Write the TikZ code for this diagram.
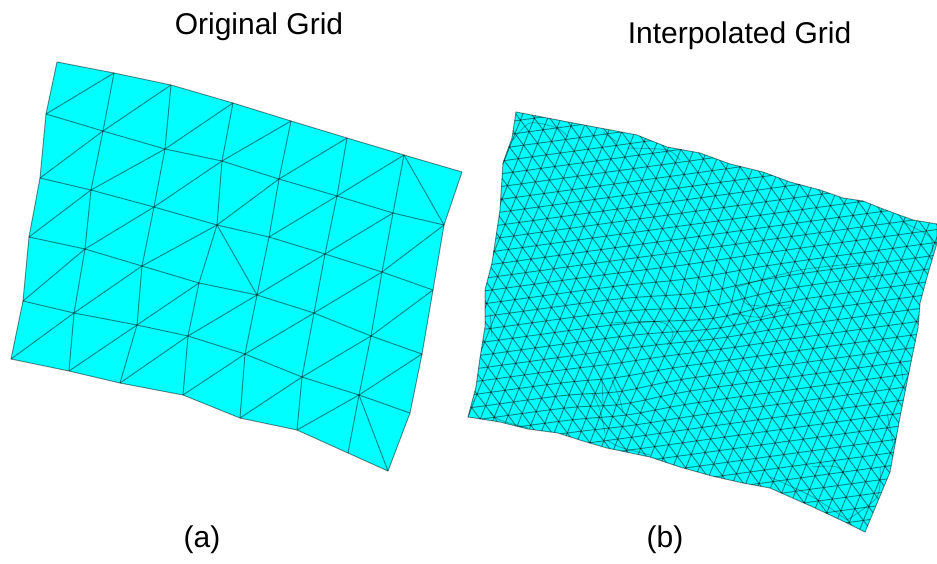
\documentclass[tikz,border=0pt]{standalone}
\usepackage{fontspec}
\setmainfont{Liberation Sans}
\usetikzlibrary{positioning}

\begin{document}
\begin{tikzpicture}[
  x=1pt, y=-1pt,
  title/.style={font=\fontsize{30}{34}\selectfont, text=black, inner sep=0pt},
  tag/.style={font=\fontsize{30}{34}\selectfont, text=black, inner sep=0pt},
  meshfill/.style={fill={rgb,255:red,0;green,255;blue,255}},
  meshline/.style={draw=black, draw opacity=.45, line width=1pt},
  fineline/.style={draw=black, draw opacity=.45, line width=1pt},
  seamline/.style={draw=black, draw opacity=.3, line width=.9pt},
]
\useasboundingbox (0,0) rectangle (937,563);

%% Titles
\node[title] (titleA) at (259,27) {Original Grid};
\node[title] (titleB) at (739.5,36) {Interpolated Grid};
\node[tag]   (tagA) at (202,540) {(a)};
\node[tag]   (tagB) at (665,540) {(b)};

%% Original grid, vertices
\foreach \name/\px/\py in {
  1-1/57/62, 1-2/114/73, 1-3/171/85, 1-4/233/103, 1-5/291/121, 1-6/347/138, 1-7/404/155, 1-8/462/172,
  2-1/46/114, 2-2/103/131, 2-3/165/149, 2-4/222/161, 2-5/279/179, 2-6/337/196, 2-7/393/213, 2-8/444/225,
  3-1/40/178, 3-2/91/190, 3-3/154/207, 3-4/217/225, 3-5/269/237, 3-6/325/254, 3-7/382/272, 3-8/433/290,
  4-1/29/237, 4-2/85/249, 4-3/142/266, 4-4/199/283, 4-5/257/295, 4-6/314/313, 4-7/371/336, 4-8/422/354,
  5-1/23/301, 5-2/74/313, 5-3/137/325, 5-4/188/336, 5-5/245/354, 5-6/302/377, 5-7/359/395, 5-8/410/413,
  6-1/11/359, 6-2/69/371, 6-3/120/383, 6-4/183/395, 6-5/240/418, 6-6/297/430, 6-7/348/453, 6-8/388/471}
  \coordinate (g\name) at (\px,\py);

\path[meshfill] (g1-1) -- (g1-2) -- (g1-3) -- (g1-4) -- (g1-5) -- (g1-6) -- (g1-7) -- (g1-8)
  -- (g2-8) -- (g3-8) -- (g4-8) -- (g5-8) -- (g6-8) -- (g6-7) -- (g6-6) -- (g6-5) -- (g6-4)
  -- (g6-3) -- (g6-2) -- (g6-1) -- (g5-1) -- (g4-1) -- (g3-1) -- (g2-1) -- cycle;

%% Original grid, rows and columns
\foreach \r in {1,...,6}
  \foreach \c in {1,...,7} {
    \pgfmathtruncatemacro\cnext{\c+1}
    \draw[meshline] (g\r-\c) -- (g\r-\cnext);
  }
\foreach \c in {1,...,8}
  \foreach \r in {1,...,5} {
    \pgfmathtruncatemacro\rnext{\r+1}
    \draw[meshline] (g\r-\c) -- (g\rnext-\c);
  }

%% Original grid, diagonals (cells 1-7, 3-4 and 5-7 lean the other way)
\foreach \r in {1,...,5}
  \foreach \c in {1,...,7} {
    \pgfmathtruncatemacro\cell{10*\r+\c}
    \pgfmathtruncatemacro\lean{(\cell==17)+(\cell==34)+(\cell==57)}
    \pgfmathtruncatemacro\cnext{\c+1}
    \pgfmathtruncatemacro\rfrom{\r+1-\lean}
    \pgfmathtruncatemacro\rto{\r+\lean}
    \draw[meshline] (g\rfrom-\c) -- (g\rto-\cnext);
  }

%% Interpolated grid, outline
\def\outline{(516,112) -- (568,122) -- (637,135) -- (667,147) -- (700,153) -- (730,164)
  -- (763,172) -- (790,182) -- (820,190) -- (843,198) -- (863,201) -- (883,209) -- (913,220)
  -- (937,224) -- (937,243) -- (927,277) -- (920,303) -- (918,328) -- (910,367) -- (900,417)
  -- (890,472) -- (865,532) -- (845,522) -- (813,507) -- (770,488) -- (743,483) -- (712,476)
  -- (680,467) -- (650,457) -- (607,448) -- (583,441) -- (558,433) -- (528,429) -- (500,422)
  -- (468,417) -- (476,387) -- (480,358) -- (485,327) -- (485,290) -- (492,263) -- (500,210)
  -- (503,163) -- (512,138) -- cycle}
\path[meshfill] \outline;

%% Interpolated grid, vertices (lattice with two local bumps)
\foreach \j in {-17,...,20} {
  \pgfmathtruncatemacro\ilo{(460-700-8.6*\j)/14-4}
  \pgfmathtruncatemacro\ihi{(945-700-8.6*\j)/14+4}
  \foreach \i in {\ilo,...,\ihi} {
    \pgfmathsetmacro\mx{700+\i*14+\j*8.6}
    \pgfmathsetmacro\my{300-\i*1.9+\j*11.6}
    \pgfmathsetmacro\ba{exp(-(((\mx-705)/55)*((\mx-705)/55)+((\my-305)/30)*((\my-305)/30)))}
    \pgfmathsetmacro\bb{exp(-(((\mx-625)/39)*((\mx-625)/39)+((\my-395)/26)*((\my-395)/26)))}
    \coordinate (m\i-\j) at ({\mx+5*\ba-4*\bb},{\my+7*\ba+5*\bb});
  }
}

\begin{scope}
  \clip \outline;
  \foreach \j in {-17,...,19} {
    \pgfmathtruncatemacro\ilo{(460-700-8.6*\j)/14-1}
    \pgfmathtruncatemacro\ihi{(945-700-8.6*\j)/14+1}
    \pgfmathtruncatemacro\jnext{\j+1}
    \foreach \i in {\ilo,...,\ihi} {
      \pgfmathtruncatemacro\inext{\i+1}
      \pgfmathtruncatemacro\iprev{\i-1}
      \draw[fineline] (m\i-\j) -- (m\inext-\j);
      \draw[fineline] (m\i-\j) -- (m\i-\jnext);
      \draw[fineline] (m\i-\j) -- (m\iprev-\jnext);
    }
  }
  %% seams where the lattice bends
  \foreach \seam in {
    {(737,287) (745,303) (760,306) (790,305)},
    {(737,287) (800,270) (873,263) (877,273) (873,280)},
    {(732,313) (760,317) (790,307)},
    {(903,222) (930,237) (932,253)},
    {(513,140) (530,123) (557,128) (568,137)},
    {(603,132) (617,142)},
    {(627,148) (667,150) (680,160)},
    {(610,323) (660,322) (673,333) (667,345)},
    {(490,313) (492,337)},
    {(602,380) (603,403)},
    {(612,380) (620,400) (623,413)},
    {(592,393) (600,410) (605,433)},
    {(607,440) (620,447) (650,455)},
    {(812,467) (837,467) (850,483)},
    {(880,467) (877,497) (847,520)},
    {(887,413) (893,443)},
    {(900,360) (903,380)},
    {(770,477) (813,497) (847,520)},
    {(490,412) (500,420) (528,428)}}
    \draw[seamline] plot[smooth] coordinates \seam;
\end{scope}
\draw[fineline] \outline;

\end{tikzpicture}
\end{document}
